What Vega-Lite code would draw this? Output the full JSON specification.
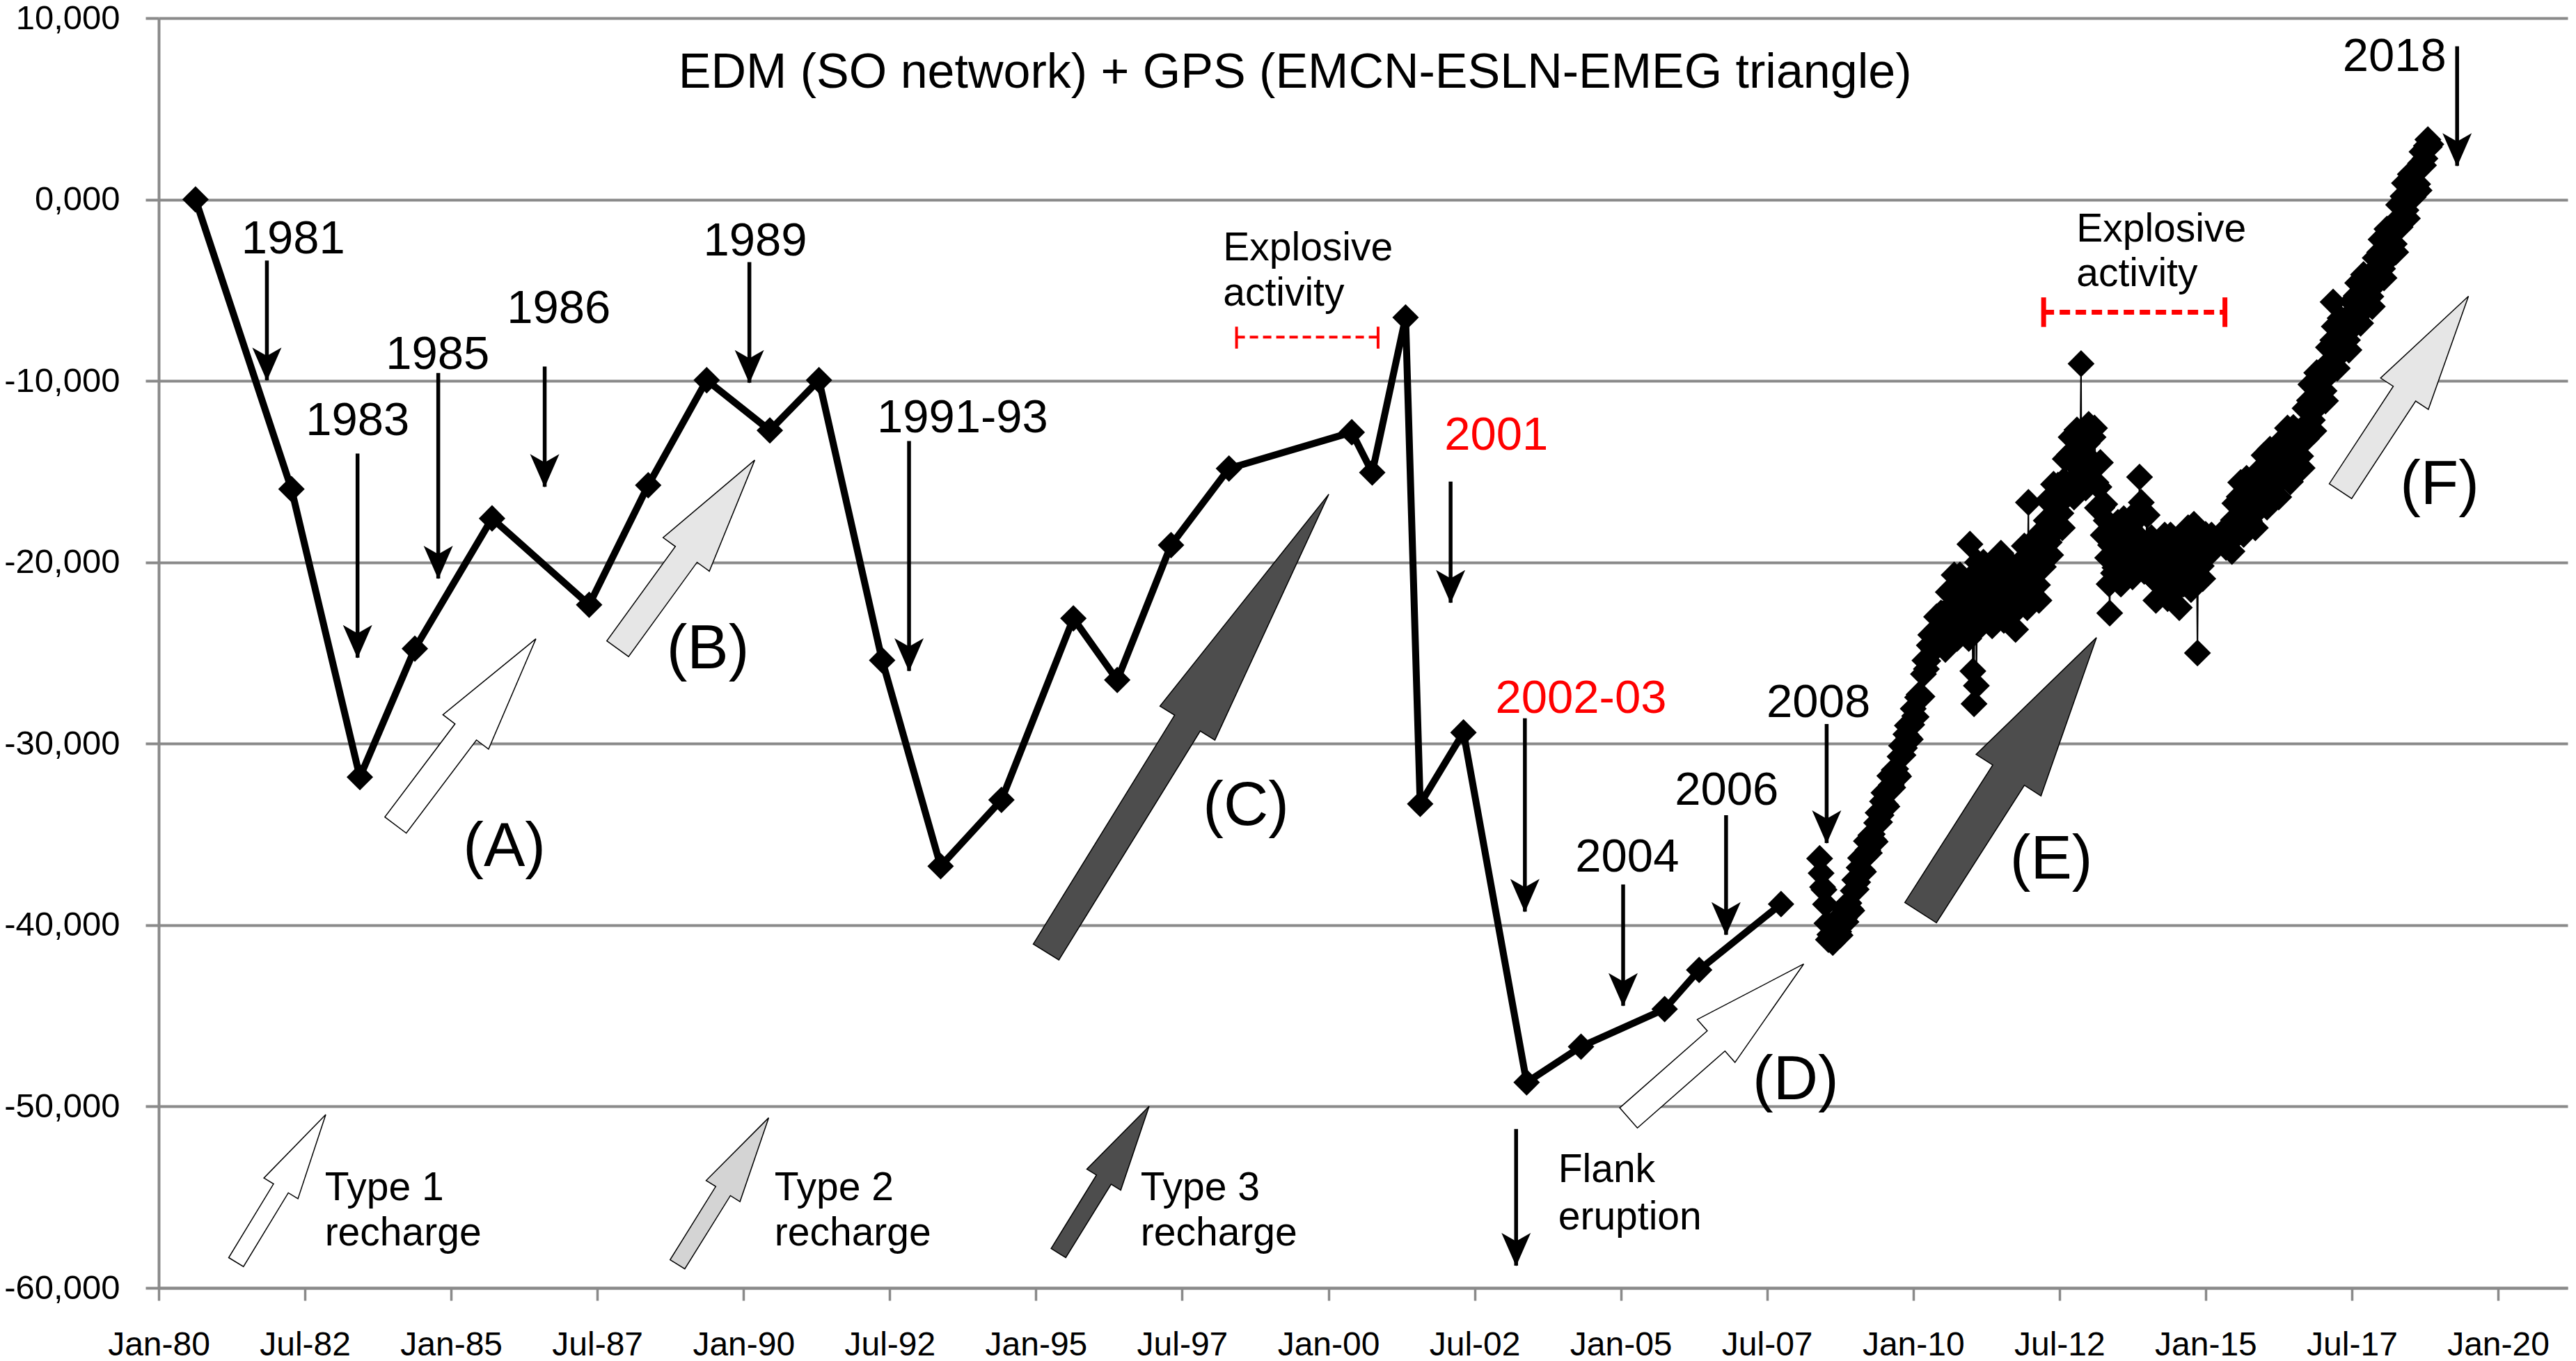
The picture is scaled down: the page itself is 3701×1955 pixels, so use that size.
{
  "$schema": "https://vega.github.io/schema/vega-lite/v6.json",
  "width": 3461,
  "height": 1824,
  "autosize": {"type": "none"},
  "padding": {"left": 228, "top": 26, "right": 12, "bottom": 105},
  "background": "white",
  "config": {"view": {"stroke": null}, "font": "Liberation Sans"},
  "datasets": {
    "edm": [
      {"year": 1980.63, "value": 0}, {"year": 1982.27, "value": -15960}, {"year": 1983.44, "value": -31840},
      {"year": 1984.38, "value": -24760}, {"year": 1985.70, "value": -17580}, {"year": 1987.36, "value": -22340},
      {"year": 1988.37, "value": -15750}, {"year": 1989.37, "value": -9960}, {"year": 1990.45, "value": -12730},
      {"year": 1991.29, "value": -9960}, {"year": 1992.37, "value": -25400}, {"year": 1993.37, "value": -36750},
      {"year": 1994.41, "value": -33100}, {"year": 1995.64, "value": -23090}, {"year": 1996.39, "value": -26490},
      {"year": 1997.31, "value": -19050}, {"year": 1998.30, "value": -14830}, {"year": 2000.40, "value": -12830},
      {"year": 2000.75, "value": -15050}, {"year": 2001.32, "value": -6505}, {"year": 2001.57, "value": -33320},
      {"year": 2002.31, "value": -29380}, {"year": 2003.39, "value": -48670}, {"year": 2004.32, "value": -46700},
      {"year": 2005.75, "value": -44630}, {"year": 2006.34, "value": -42470}, {"year": 2007.74, "value": -38840}
    ],
    "gps": [
      {"year": 2008.40, "value": -36330, "seg": "a"}, {"year": 2008.45, "value": -37900, "seg": "a"},
      {"year": 2008.50, "value": -38850, "seg": "a"}, {"year": 2008.55, "value": -40800, "seg": "a"},
      {"year": 2008.60, "value": -40620, "seg": "a"}, {"year": 2008.65, "value": -40800, "seg": "a"},
      {"year": 2008.70, "value": -39700, "seg": "a"}, {"year": 2008.75, "value": -40560, "seg": "a"},
      {"year": 2008.80, "value": -39070, "seg": "a"}, {"year": 2008.85, "value": -39820, "seg": "a"},
      {"year": 2008.90, "value": -38790, "seg": "a"}, {"year": 2008.95, "value": -39200, "seg": "a"},
      {"year": 2009.00, "value": -37510, "seg": "a"}, {"year": 2009.05, "value": -37640, "seg": "a"},
      {"year": 2009.10, "value": -36300, "seg": "a"}, {"year": 2009.15, "value": -37060, "seg": "a"},
      {"year": 2009.20, "value": -35370, "seg": "a"}, {"year": 2009.25, "value": -36020, "seg": "a"},
      {"year": 2009.30, "value": -34990, "seg": "a"}, {"year": 2009.35, "value": -35400, "seg": "a"},
      {"year": 2009.40, "value": -33810, "seg": "a"}, {"year": 2009.45, "value": -33940, "seg": "a"},
      {"year": 2009.50, "value": -32700, "seg": "a"}, {"year": 2009.55, "value": -33460, "seg": "a"},
      {"year": 2009.60, "value": -31770, "seg": "a"}, {"year": 2009.65, "value": -32420, "seg": "a"},
      {"year": 2009.70, "value": -31390, "seg": "a"}, {"year": 2009.75, "value": -31800, "seg": "a"},
      {"year": 2009.80, "value": -30110, "seg": "a"}, {"year": 2009.85, "value": -30240, "seg": "a"},
      {"year": 2009.90, "value": -29000, "seg": "a"}, {"year": 2009.95, "value": -29760, "seg": "a"},
      {"year": 2010.00, "value": -28070, "seg": "a"}, {"year": 2010.05, "value": -28520, "seg": "a"},
      {"year": 2010.10, "value": -27290, "seg": "a"}, {"year": 2010.15, "value": -27400, "seg": "a"},
      {"year": 2010.20, "value": -25410, "seg": "a"}, {"year": 2010.25, "value": -25440, "seg": "a"},
      {"year": 2010.30, "value": -24000, "seg": "a"}, {"year": 2010.35, "value": -24840, "seg": "a"},
      {"year": 2010.40, "value": -23000, "seg": "a"}, {"year": 2010.45, "value": -24320, "seg": "a"},
      {"year": 2010.50, "value": -22850, "seg": "a"}, {"year": 2010.55, "value": -24800, "seg": "a"},
      {"year": 2010.60, "value": -21640, "seg": "a"}, {"year": 2010.65, "value": -23180, "seg": "a"},
      {"year": 2010.70, "value": -20700, "seg": "a"}, {"year": 2010.75, "value": -24200, "seg": "a"},
      {"year": 2010.80, "value": -20700, "seg": "a"}, {"year": 2010.85, "value": -23600, "seg": "a"},
      {"year": 2010.90, "value": -21700, "seg": "a"}, {"year": 2010.95, "value": -24200, "seg": "a"},
      {"year": 2010.97, "value": -19000, "seg": "a"}, {"year": 2011.00, "value": -20800, "seg": "a"},
      {"year": 2011.02, "value": -26000, "seg": "a"}, {"year": 2011.04, "value": -27800, "seg": "a"},
      {"year": 2011.05, "value": -22500, "seg": "a"}, {"year": 2011.08, "value": -26800, "seg": "a"},
      {"year": 2011.10, "value": -20000, "seg": "a"}, {"year": 2011.15, "value": -23500, "seg": "a"},
      {"year": 2011.20, "value": -20000, "seg": "a"}, {"year": 2011.25, "value": -22900, "seg": "a"},
      {"year": 2011.30, "value": -21000, "seg": "a"}, {"year": 2011.35, "value": -23500, "seg": "a"},
      {"year": 2011.40, "value": -20000, "seg": "a"}, {"year": 2011.45, "value": -21800, "seg": "a"},
      {"year": 2011.50, "value": -19500, "seg": "a"}, {"year": 2011.55, "value": -23200, "seg": "a"},
      {"year": 2011.60, "value": -19900, "seg": "a"}, {"year": 2011.65, "value": -23000, "seg": "a"},
      {"year": 2011.70, "value": -21200, "seg": "a"}, {"year": 2011.75, "value": -23700, "seg": "a"},
      {"year": 2011.80, "value": -20100, "seg": "a"}, {"year": 2011.85, "value": -21700, "seg": "a"},
      {"year": 2011.90, "value": -19100, "seg": "a"}, {"year": 2011.95, "value": -22500, "seg": "a"},
      {"year": 2011.97, "value": -16700, "seg": "a"}, {"year": 2012.00, "value": -19000, "seg": "a"},
      {"year": 2012.05, "value": -21800, "seg": "a"}, {"year": 2012.10, "value": -19800, "seg": "a"},
      {"year": 2012.15, "value": -22100, "seg": "a"}, {"year": 2012.20, "value": -18300, "seg": "a"},
      {"year": 2012.25, "value": -19600, "seg": "a"}, {"year": 2012.30, "value": -16600, "seg": "a"},
      {"year": 2012.35, "value": -19600, "seg": "a"}, {"year": 2012.40, "value": -15700, "seg": "a"},
      {"year": 2012.45, "value": -18200, "seg": "a"}, {"year": 2012.50, "value": -15900, "seg": "a"},
      {"year": 2012.55, "value": -18100, "seg": "a"}, {"year": 2012.60, "value": -14300, "seg": "a"},
      {"year": 2012.65, "value": -15800, "seg": "a"}, {"year": 2012.70, "value": -13100, "seg": "a"},
      {"year": 2012.75, "value": -16400, "seg": "a"}, {"year": 2012.80, "value": -12700, "seg": "a"},
      {"year": 2012.85, "value": -15500, "seg": "a"}, {"year": 2012.87, "value": -9050, "seg": "a"},
      {"year": 2012.90, "value": -13500, "seg": "a"}, {"year": 2012.95, "value": -15900, "seg": "a"},
      {"year": 2013.00, "value": -12400, "seg": "a"}, {"year": 2013.05, "value": -14400, "seg": "a"},
      {"year": 2013.10, "value": -12600, "seg": "a"}, {"year": 2013.15, "value": -17000, "seg": "a"},
      {"year": 2013.20, "value": -14500, "seg": "a"}, {"year": 2013.25, "value": -18500, "seg": "a"},
      {"year": 2013.30, "value": -17700, "seg": "a"}, {"year": 2013.35, "value": -21200, "seg": "a"},
      {"year": 2013.36, "value": -22800, "seg": "a"}, {"year": 2013.40, "value": -18300, "seg": "a"},
      {"year": 2013.45, "value": -20300, "seg": "a"}, {"year": 2013.50, "value": -17800, "seg": "a"},
      {"year": 2013.55, "value": -21200, "seg": "a"}, {"year": 2013.60, "value": -17600, "seg": "a"},
      {"year": 2013.65, "value": -20400, "seg": "a"}, {"year": 2013.70, "value": -18400, "seg": "a"},
      {"year": 2013.75, "value": -20800, "seg": "a"}, {"year": 2013.80, "value": -17300, "seg": "a"},
      {"year": 2013.85, "value": -19000, "seg": "a"}, {"year": 2013.87, "value": -15300, "seg": "a"},
      {"year": 2013.90, "value": -16700, "seg": "a"}, {"year": 2013.95, "value": -20500, "seg": "a"},
      {"year": 2014.00, "value": -17400, "seg": "a"}, {"year": 2014.05, "value": -20700, "seg": "a"},
      {"year": 2014.10, "value": -19200, "seg": "a"}, {"year": 2014.15, "value": -22100, "seg": "a"},
      {"year": 2014.20, "value": -19000, "seg": "a"}, {"year": 2014.25, "value": -20900, "seg": "a"},
      {"year": 2014.30, "value": -18500, "seg": "a"}, {"year": 2014.35, "value": -22000, "seg": "a"},
      {"year": 2014.40, "value": -18500, "seg": "a"}, {"year": 2014.45, "value": -21500, "seg": "a"},
      {"year": 2014.50, "value": -19800, "seg": "a"}, {"year": 2014.55, "value": -22500, "seg": "a"},
      {"year": 2014.60, "value": -19100, "seg": "a"}, {"year": 2014.65, "value": -20700, "seg": "a"},
      {"year": 2014.70, "value": -18100, "seg": "a"}, {"year": 2014.75, "value": -21500, "seg": "a"},
      {"year": 2014.80, "value": -17900, "seg": "a"}, {"year": 2014.85, "value": -20800, "seg": "a"},
      {"year": 2014.86, "value": -25000, "seg": "a"}, {"year": 2014.90, "value": -18900, "seg": "a"},
      {"year": 2014.95, "value": -20900, "seg": "a"}, {"year": 2015.00, "value": -18460, "seg": "a"},
      {"year": 2015.05, "value": -19400, "seg": "a"}, {"year": 2015.10, "value": -18500, "seg": "a"},
      {"year": 2015.15, "value": -19240, "seg": "a"},
      {"year": 2008.425, "value": -37140, "seg": "a"}, {"year": 2008.475, "value": -38050, "seg": "a"},
      {"year": 2008.525, "value": -39900, "seg": "a"}, {"year": 2008.575, "value": -40520, "seg": "a"},
      {"year": 2008.625, "value": -40960, "seg": "a"}, {"year": 2008.675, "value": -40140, "seg": "a"},
      {"year": 2008.725, "value": -40360, "seg": "a"}, {"year": 2008.775, "value": -39850, "seg": "a"},
      {"year": 2008.825, "value": -39620, "seg": "a"}, {"year": 2008.875, "value": -38850, "seg": "a"},
      {"year": 2008.925, "value": -39100, "seg": "a"}, {"year": 2008.975, "value": -38110, "seg": "a"},
      {"year": 2009.025, "value": -38030, "seg": "a"}, {"year": 2009.075, "value": -36830, "seg": "a"},
      {"year": 2009.125, "value": -36960, "seg": "a"}, {"year": 2009.175, "value": -36250, "seg": "a"},
      {"year": 2009.225, "value": -35870, "seg": "a"}, {"year": 2009.275, "value": -35050, "seg": "a"},
      {"year": 2009.325, "value": -35300, "seg": "a"}, {"year": 2009.375, "value": -34360, "seg": "a"},
      {"year": 2009.425, "value": -34330, "seg": "a"}, {"year": 2009.475, "value": -33180, "seg": "a"},
      {"year": 2009.525, "value": -33360, "seg": "a"}, {"year": 2009.575, "value": -32650, "seg": "a"},
      {"year": 2009.625, "value": -32270, "seg": "a"}, {"year": 2009.675, "value": -31450, "seg": "a"},
      {"year": 2009.725, "value": -31700, "seg": "a"}, {"year": 2009.775, "value": -30710, "seg": "a"},
      {"year": 2009.825, "value": -30630, "seg": "a"}, {"year": 2009.875, "value": -29480, "seg": "a"},
      {"year": 2009.925, "value": -29660, "seg": "a"}, {"year": 2009.975, "value": -28950, "seg": "a"},
      {"year": 2010.025, "value": -28470, "seg": "a"}, {"year": 2010.075, "value": -27450, "seg": "a"},
      {"year": 2010.125, "value": -27450, "seg": "a"}, {"year": 2010.175, "value": -26160, "seg": "a"},
      {"year": 2010.225, "value": -25880, "seg": "a"}, {"year": 2010.275, "value": -24580, "seg": "a"},
      {"year": 2010.325, "value": -24690, "seg": "a"}, {"year": 2010.375, "value": -24050, "seg": "a"},
      {"year": 2010.425, "value": -23860, "seg": "a"}, {"year": 2010.475, "value": -22800, "seg": "a"},
      {"year": 2010.525, "value": -24000, "seg": "a"}, {"year": 2010.575, "value": -22650, "seg": "a"},
      {"year": 2010.625, "value": -23590, "seg": "a"}, {"year": 2010.675, "value": -21550, "seg": "a"},
      {"year": 2010.725, "value": -23250, "seg": "a"}, {"year": 2010.775, "value": -22550, "seg": "a"},
      {"year": 2010.825, "value": -22650, "seg": "a"}, {"year": 2010.875, "value": -21350, "seg": "a"},
      {"year": 2010.925, "value": -23250, "seg": "a"}, {"year": 2010.975, "value": -21800, "seg": "a"},
      {"year": 2011.025, "value": -22950, "seg": "a"}, {"year": 2011.075, "value": -20850, "seg": "a"},
      {"year": 2011.125, "value": -22550, "seg": "a"}, {"year": 2011.175, "value": -21850, "seg": "a"},
      {"year": 2011.225, "value": -21950, "seg": "a"}, {"year": 2011.275, "value": -20650, "seg": "a"},
      {"year": 2011.325, "value": -22550, "seg": "a"}, {"year": 2011.375, "value": -21050, "seg": "a"},
      {"year": 2011.425, "value": -22200, "seg": "a"}, {"year": 2011.475, "value": -20250, "seg": "a"},
      {"year": 2011.525, "value": -22150, "seg": "a"}, {"year": 2011.575, "value": -21650, "seg": "a"},
      {"year": 2011.625, "value": -21950, "seg": "a"}, {"year": 2011.675, "value": -20800, "seg": "a"},
      {"year": 2011.725, "value": -22750, "seg": "a"}, {"year": 2011.775, "value": -21200, "seg": "a"},
      {"year": 2011.825, "value": -22200, "seg": "a"}, {"year": 2011.875, "value": -20000, "seg": "a"},
      {"year": 2011.925, "value": -21600, "seg": "a"}, {"year": 2011.975, "value": -20850, "seg": "a"},
      {"year": 2012.025, "value": -20900, "seg": "a"}, {"year": 2012.075, "value": -19500, "seg": "a"},
      {"year": 2012.125, "value": -21250, "seg": "a"}, {"year": 2012.175, "value": -19500, "seg": "a"},
      {"year": 2012.225, "value": -20250, "seg": "a"}, {"year": 2012.275, "value": -17700, "seg": "a"},
      {"year": 2012.325, "value": -18900, "seg": "a"}, {"year": 2012.375, "value": -17750, "seg": "a"},
      {"year": 2012.425, "value": -17450, "seg": "a"}, {"year": 2012.475, "value": -15750, "seg": "a"},
      {"year": 2012.525, "value": -17300, "seg": "a"}, {"year": 2012.575, "value": -15500, "seg": "a"},
      {"year": 2012.625, "value": -16350, "seg": "a"}, {"year": 2012.675, "value": -14050, "seg": "a"},
      {"year": 2012.725, "value": -15550, "seg": "a"}, {"year": 2012.775, "value": -14650, "seg": "a"},
      {"year": 2012.825, "value": -14600, "seg": "a"}, {"year": 2012.875, "value": -13200, "seg": "a"},
      {"year": 2012.925, "value": -15000, "seg": "a"}, {"year": 2012.975, "value": -13450, "seg": "a"},
      {"year": 2013.025, "value": -14700, "seg": "a"}, {"year": 2013.075, "value": -13100, "seg": "a"},
      {"year": 2013.125, "value": -15600, "seg": "a"}, {"year": 2013.175, "value": -15850, "seg": "a"},
      {"year": 2013.225, "value": -17000, "seg": "a"}, {"year": 2013.275, "value": -16800, "seg": "a"},
      {"year": 2013.325, "value": -19750, "seg": "a"}, {"year": 2013.375, "value": -19050, "seg": "a"},
      {"year": 2013.425, "value": -20600, "seg": "a"}, {"year": 2013.475, "value": -18650, "seg": "a"},
      {"year": 2013.525, "value": -20300, "seg": "a"}, {"year": 2013.575, "value": -19500, "seg": "a"},
      {"year": 2013.625, "value": -19500, "seg": "a"}, {"year": 2013.675, "value": -18100, "seg": "a"},
      {"year": 2013.725, "value": -19900, "seg": "a"}, {"year": 2013.775, "value": -18350, "seg": "a"},
      {"year": 2013.825, "value": -19450, "seg": "a"}, {"year": 2013.875, "value": -17450, "seg": "a"},
      {"year": 2013.925, "value": -19400, "seg": "a"}, {"year": 2013.975, "value": -19050, "seg": "a"},
      {"year": 2014.025, "value": -19550, "seg": "a"}, {"year": 2014.075, "value": -18650, "seg": "a"},
      {"year": 2014.125, "value": -20950, "seg": "a"}, {"year": 2014.175, "value": -19850, "seg": "a"},
      {"year": 2014.225, "value": -21250, "seg": "a"}, {"year": 2014.275, "value": -19300, "seg": "a"},
      {"year": 2014.325, "value": -21050, "seg": "a"}, {"year": 2014.375, "value": -20350, "seg": "a"},
      {"year": 2014.425, "value": -20500, "seg": "a"}, {"year": 2014.475, "value": -19350, "seg": "a"},
      {"year": 2014.525, "value": -21450, "seg": "a"}, {"year": 2014.575, "value": -20100, "seg": "a"},
      {"year": 2014.625, "value": -21200, "seg": "a"}, {"year": 2014.675, "value": -19000, "seg": "a"},
      {"year": 2014.725, "value": -20600, "seg": "a"}, {"year": 2014.775, "value": -19800, "seg": "a"},
      {"year": 2014.825, "value": -19850, "seg": "a"}, {"year": 2014.875, "value": -18550, "seg": "a"},
      {"year": 2014.925, "value": -20200, "seg": "a"}, {"year": 2014.975, "value": -19110, "seg": "a"},
      {"year": 2015.025, "value": -19650, "seg": "a"}, {"year": 2015.075, "value": -18670, "seg": "a"},
      {"year": 2015.125, "value": -19180, "seg": "a"},
      {"year": 2015.30, "value": -18450, "seg": "b"}, {"year": 2015.35, "value": -19180, "seg": "b"},
      {"year": 2015.40, "value": -18070, "seg": "b"}, {"year": 2015.45, "value": -19400, "seg": "b"},
      {"year": 2015.50, "value": -16750, "seg": "b"}, {"year": 2015.55, "value": -17840, "seg": "b"},
      {"year": 2015.60, "value": -15600, "seg": "b"}, {"year": 2015.65, "value": -18460, "seg": "b"},
      {"year": 2015.70, "value": -15370, "seg": "b"}, {"year": 2015.75, "value": -17720, "seg": "b"},
      {"year": 2015.80, "value": -16090, "seg": "b"}, {"year": 2015.85, "value": -18100, "seg": "b"},
      {"year": 2015.90, "value": -15010, "seg": "b"}, {"year": 2015.95, "value": -16340, "seg": "b"},
      {"year": 2016.00, "value": -14100, "seg": "b"}, {"year": 2016.05, "value": -16960, "seg": "b"},
      {"year": 2016.10, "value": -13770, "seg": "b"}, {"year": 2016.15, "value": -16120, "seg": "b"},
      {"year": 2016.20, "value": -14390, "seg": "b"}, {"year": 2016.25, "value": -16400, "seg": "b"},
      {"year": 2016.30, "value": -13310, "seg": "b"}, {"year": 2016.35, "value": -14740, "seg": "b"},
      {"year": 2016.40, "value": -12600, "seg": "b"}, {"year": 2016.45, "value": -15560, "seg": "b"},
      {"year": 2016.50, "value": -12570, "seg": "b"}, {"year": 2016.55, "value": -14820, "seg": "b"},
      {"year": 2016.60, "value": -12990, "seg": "b"}, {"year": 2016.65, "value": -14800, "seg": "b"},
      {"year": 2016.70, "value": -11510, "seg": "b"}, {"year": 2016.75, "value": -12640, "seg": "b"},
      {"year": 2016.80, "value": -10200, "seg": "b"}, {"year": 2016.85, "value": -12760, "seg": "b"},
      {"year": 2016.90, "value": -9550, "seg": "b"}, {"year": 2016.95, "value": -11300, "seg": "b"},
      {"year": 2017.00, "value": -9550, "seg": "b"}, {"year": 2017.05, "value": -11100, "seg": "b"},
      {"year": 2017.10, "value": -8150, "seg": "b"}, {"year": 2017.15, "value": -9100, "seg": "b"},
      {"year": 2017.18, "value": -5650, "seg": "b"}, {"year": 2017.20, "value": -7000, "seg": "b"},
      {"year": 2017.25, "value": -9300, "seg": "b"}, {"year": 2017.30, "value": -6540, "seg": "b"},
      {"year": 2017.35, "value": -8340, "seg": "b"}, {"year": 2017.40, "value": -6780, "seg": "b"},
      {"year": 2017.45, "value": -8300, "seg": "b"}, {"year": 2017.50, "value": -5620, "seg": "b"},
      {"year": 2017.55, "value": -6580, "seg": "b"}, {"year": 2017.60, "value": -4600, "seg": "b"},
      {"year": 2017.65, "value": -6820, "seg": "b"}, {"year": 2017.70, "value": -4140, "seg": "b"},
      {"year": 2017.75, "value": -5940, "seg": "b"}, {"year": 2017.80, "value": -4380, "seg": "b"},
      {"year": 2017.85, "value": -5900, "seg": "b"}, {"year": 2017.90, "value": -3220, "seg": "b"},
      {"year": 2017.95, "value": -4180, "seg": "b"}, {"year": 2018.00, "value": -2200, "seg": "b"},
      {"year": 2018.05, "value": -4320, "seg": "b"}, {"year": 2018.10, "value": -1630, "seg": "b"},
      {"year": 2018.15, "value": -3180, "seg": "b"}, {"year": 2018.20, "value": -1610, "seg": "b"},
      {"year": 2018.25, "value": -2900, "seg": "b"}, {"year": 2018.30, "value": -290, "seg": "b"},
      {"year": 2018.35, "value": -1060, "seg": "b"}, {"year": 2018.40, "value": 900, "seg": "b"},
      {"year": 2018.45, "value": -1040, "seg": "b"}, {"year": 2018.50, "value": 1390, "seg": "b"},
      {"year": 2018.55, "value": 140, "seg": "b"}, {"year": 2018.60, "value": 1530, "seg": "b"},
      {"year": 2018.65, "value": 500, "seg": "b"}, {"year": 2018.70, "value": 2630, "seg": "b"},
      {"year": 2018.75, "value": 2260, "seg": "b"}, {"year": 2018.80, "value": 3300, "seg": "b"},
      {"year": 2018.85, "value": 3040, "seg": "b"},
      {"year": 2015.325, "value": -18870, "seg": "b"}, {"year": 2015.375, "value": -18080, "seg": "b"},
      {"year": 2015.425, "value": -18850, "seg": "b"}, {"year": 2015.475, "value": -17670, "seg": "b"},
      {"year": 2015.525, "value": -18290, "seg": "b"}, {"year": 2015.575, "value": -16380, "seg": "b"},
      {"year": 2015.625, "value": -17710, "seg": "b"}, {"year": 2015.675, "value": -17000, "seg": "b"},
      {"year": 2015.725, "value": -16970, "seg": "b"}, {"year": 2015.775, "value": -15800, "seg": "b"},
      {"year": 2015.825, "value": -17350, "seg": "b"}, {"year": 2015.875, "value": -15960, "seg": "b"},
      {"year": 2015.925, "value": -16780, "seg": "b"}, {"year": 2015.975, "value": -14880, "seg": "b"},
      {"year": 2016.025, "value": -16210, "seg": "b"}, {"year": 2016.075, "value": -15450, "seg": "b"},
      {"year": 2016.125, "value": -15370, "seg": "b"}, {"year": 2016.175, "value": -14150, "seg": "b"},
      {"year": 2016.225, "value": -15650, "seg": "b"}, {"year": 2016.275, "value": -14260, "seg": "b"},
      {"year": 2016.325, "value": -15130, "seg": "b"}, {"year": 2016.375, "value": -13330, "seg": "b"},
      {"year": 2016.425, "value": -14760, "seg": "b"}, {"year": 2016.475, "value": -14150, "seg": "b"},
      {"year": 2016.525, "value": -14120, "seg": "b"}, {"year": 2016.575, "value": -12800, "seg": "b"},
      {"year": 2016.625, "value": -14150, "seg": "b"}, {"year": 2016.675, "value": -12560, "seg": "b"},
      {"year": 2016.725, "value": -13180, "seg": "b"}, {"year": 2016.775, "value": -11080, "seg": "b"},
      {"year": 2016.825, "value": -12160, "seg": "b"}, {"year": 2016.875, "value": -11150, "seg": "b"},
      {"year": 2016.925, "value": -10800, "seg": "b"}, {"year": 2016.975, "value": -9450, "seg": "b"},
      {"year": 2017.025, "value": -10550, "seg": "b"}, {"year": 2017.075, "value": -9100, "seg": "b"},
      {"year": 2017.125, "value": -9600, "seg": "b"}, {"year": 2017.175, "value": -7750, "seg": "b"},
      {"year": 2017.225, "value": -8750, "seg": "b"}, {"year": 2017.275, "value": -7950, "seg": "b"},
      {"year": 2017.325, "value": -7790, "seg": "b"}, {"year": 2017.375, "value": -6650, "seg": "b"},
      {"year": 2017.425, "value": -7750, "seg": "b"}, {"year": 2017.475, "value": -6470, "seg": "b"},
      {"year": 2017.525, "value": -7010, "seg": "b"}, {"year": 2017.575, "value": -5310, "seg": "b"},
      {"year": 2017.625, "value": -6270, "seg": "b"}, {"year": 2017.675, "value": -5550, "seg": "b"},
      {"year": 2017.725, "value": -5390, "seg": "b"}, {"year": 2017.775, "value": -4250, "seg": "b"},
      {"year": 2017.825, "value": -5350, "seg": "b"}, {"year": 2017.875, "value": -4070, "seg": "b"},
      {"year": 2017.925, "value": -4610, "seg": "b"}, {"year": 2017.975, "value": -2910, "seg": "b"},
      {"year": 2018.025, "value": -3820, "seg": "b"}, {"year": 2018.075, "value": -3000, "seg": "b"},
      {"year": 2018.125, "value": -2730, "seg": "b"}, {"year": 2018.175, "value": -1550, "seg": "b"},
      {"year": 2018.225, "value": -2450, "seg": "b"}, {"year": 2018.275, "value": -1140, "seg": "b"},
      {"year": 2018.325, "value": -1520, "seg": "b"}, {"year": 2018.375, "value": 180, "seg": "b"},
      {"year": 2018.425, "value": -590, "seg": "b"}, {"year": 2018.475, "value": 200, "seg": "b"},
      {"year": 2018.525, "value": 490, "seg": "b"}, {"year": 2018.575, "value": 1550, "seg": "b"},
      {"year": 2018.625, "value": 850, "seg": "b"}, {"year": 2018.675, "value": 2000, "seg": "b"},
      {"year": 2018.725, "value": 1880, "seg": "b"}, {"year": 2018.775, "value": 2960, "seg": "b"},
      {"year": 2018.825, "value": 2900, "seg": "b"}
    ],
    "arrows": [
      {"year": 1981.85, "value": -9962, "top": -3367}, {"year": 1983.40, "value": -25260, "top": -14004},
      {"year": 1984.78, "value": -20898, "top": -9559}, {"year": 1986.60, "value": -15835, "top": -9210},
      {"year": 1990.10, "value": -10096, "top": -3447}, {"year": 1992.83, "value": -25990, "top": -13317},
      {"year": 2002.09, "value": -22230, "top": -15545}, {"year": 2003.36, "value": -39255, "top": -28595},
      {"year": 2005.04, "value": -44445, "top": -37758}, {"year": 2006.80, "value": -40530, "top": -33939},
      {"year": 2008.52, "value": -35474, "top": -28914}, {"year": 2019.30, "value": 1858, "top": 8449},
      {"year": 2003.21, "value": -58770, "top": -51244}
    ]
  },
  "encoding": {
    "x": {
      "field": "year", "type": "quantitative",
      "scale": {"domain": [1980, 2021.19], "nice": false, "zero": false},
      "axis": {
        "values": [1980, 1982.5, 1985, 1987.5, 1990, 1992.5, 1995, 1997.5, 2000, 2002.5, 2005, 2007.5, 2010, 2012.5, 2015, 2017.5, 2020],
        "labelExpr": "(datum.value % 5 == 0 ? 'Jan-' : 'Jul-') + substring(toString(floor(datum.value)), 2, 4)",
        "title": null, "grid": false,
        "domainColor": "#8a8a8a", "domainWidth": 4,
        "tickColor": "#8a8a8a", "tickWidth": 3.5, "tickSize": 18,
        "labelFont": "Liberation Sans", "labelFontSize": 48, "labelColor": "#000000",
        "labelPadding": 40, "labelAngle": 0, "labelFlush": false, "labelOverlap": false
      }
    },
    "y": {
      "field": "value", "type": "quantitative",
      "scale": {"domain": [-60000, 10000], "nice": false, "zero": false},
      "axis": {
        "values": [-60000, -50000, -40000, -30000, -20000, -10000, 0, 10000],
        "labelExpr": "(datum.value / 1000) + ',000'",
        "title": null, "grid": true, "gridColor": "#8a8a8a", "gridWidth": 4,
        "domainColor": "#8a8a8a", "domainWidth": 4,
        "tickColor": "#8a8a8a", "tickWidth": 4, "tickSize": 19,
        "labelFont": "Liberation Sans", "labelFontSize": 49, "labelColor": "#000000",
        "labelPadding": 37, "labelFlush": false, "labelOverlap": false
      }
    }
  },
  "layer": [
    {"data": {"values": [{"year": 1985.25, "value": -29351}]},
     "mark": {"type": "point", "shape": "M -0.115 1 L 0.115 1 L 0.115 0 L 0.245 0 L 0 -1 L -0.245 0 L -0.115 0 Z", "size": 112225, "angle": 37, "filled": true, "fill": "#ffffff", "stroke": "#000000", "strokeWidth": 1.5, "opacity": 1}},
    {"data": {"values": [{"year": 1989.02, "value": -19564}]},
     "mark": {"type": "point", "shape": "M -0.115 1 L 0.115 1 L 0.115 0 L 0.245 0 L 0 -1 L -0.245 0 L -0.115 0 Z", "size": 112225, "angle": 36, "filled": true, "fill": "#e6e6e6", "stroke": "#000000", "strokeWidth": 1.5, "opacity": 1}},
    {"data": {"values": [{"year": 1997.59, "value": -28864}]},
     "mark": {"type": "point", "shape": "M -0.056 1 L 0.056 1 L 0.056 0 L 0.12 0 L 0 -1 L -0.12 0 L -0.056 0 Z", "size": 597529, "angle": 31.7, "filled": true, "fill": "#4d4d4d", "stroke": "#000000", "strokeWidth": 1.5, "opacity": 1}},
    {"data": {"values": [{"year": 2006.63, "value": -46386}]},
     "mark": {"type": "point", "shape": "M -0.115 1 L 0.115 1 L 0.115 0 L 0.245 0 L 0 -1 L -0.245 0 L -0.115 0 Z", "size": 112225, "angle": 48.7, "filled": true, "fill": "#ffffff", "stroke": "#000000", "strokeWidth": 1.5, "opacity": 1}},
    {"data": {"values": [{"year": 2011.63, "value": -31733}]},
     "mark": {"type": "point", "shape": "M -0.115 1 L 0.115 1 L 0.115 0 L 0.236 0 L 0 -1 L -0.236 0 L -0.115 0 Z", "size": 219961, "angle": 32.6, "filled": true, "fill": "#4d4d4d", "stroke": "#000000", "strokeWidth": 1.5, "opacity": 1}},
    {"data": {"values": [{"year": 2018.40, "value": -10706}]},
     "mark": {"type": "point", "shape": "M -0.115 1 L 0.115 1 L 0.115 0 L 0.245 0 L 0 -1 L -0.245 0 L -0.115 0 Z", "size": 112225, "angle": 33.3, "filled": true, "fill": "#e6e6e6", "stroke": "#000000", "strokeWidth": 1.5, "opacity": 1}},
    {"data": {"values": [{"year": 1982.09, "value": -54512}]},
     "mark": {"type": "point", "shape": "M -0.1 1 L 0.1 1 L 0.1 0 L 0.231 0 L 0 -1 L -0.231 0 L -0.1 0 Z", "size": 61504, "angle": 31.3, "filled": true, "fill": "#ffffff", "stroke": "#000000", "strokeWidth": 1.5, "opacity": 1}},
    {"data": {"values": [{"year": 1989.65, "value": -54662}]},
     "mark": {"type": "point", "shape": "M -0.1 1 L 0.1 1 L 0.1 0 L 0.231 0 L 0 -1 L -0.231 0 L -0.1 0 Z", "size": 61504, "angle": 31.9, "filled": true, "fill": "#d4d4d4", "stroke": "#000000", "strokeWidth": 1.5, "opacity": 1}},
    {"data": {"values": [{"year": 1996.16, "value": -54032}]},
     "mark": {"type": "point", "shape": "M -0.1 1 L 0.1 1 L 0.1 0 L 0.231 0 L 0 -1 L -0.231 0 L -0.1 0 Z", "size": 61504, "angle": 31.7, "filled": true, "fill": "#4d4d4d", "stroke": "#000000", "strokeWidth": 1.5, "opacity": 1}},

    {"data": {"name": "arrows"},
     "mark": {"type": "rule", "color": "#000000", "strokeWidth": 5.5},
     "encoding": {"y2": {"field": "top"}}},
    {"data": {"name": "arrows"},
     "mark": {"type": "point", "shape": "M 0 1 L -0.875 -1 L 0 -0.5 L 0.875 -1 Z", "size": 2304, "yOffset": -23, "filled": true, "fill": "#000000", "strokeWidth": 0, "opacity": 1}},

    {"data": {"values": [{"year": 1998.43, "year2": 2000.85, "value": -7585}]},
     "mark": {"type": "rule", "color": "#ff0000", "strokeWidth": 4, "strokeDash": [12, 7]},
     "encoding": {"x2": {"field": "year2"}}},
    {"data": {"values": [{"year": 1998.43, "value": -8220, "top": -7010}, {"year": 2000.85, "value": -8220, "top": -7010}]},
     "mark": {"type": "rule", "color": "#ff0000", "strokeWidth": 4},
     "encoding": {"y2": {"field": "top"}}},
    {"data": {"values": [{"year": 2012.23, "year2": 2015.33, "value": -6212}]},
     "mark": {"type": "rule", "color": "#ff0000", "strokeWidth": 7, "strokeDash": [15, 8]},
     "encoding": {"x2": {"field": "year2"}}},
    {"data": {"values": [{"year": 2012.23, "value": -7025, "top": -5397}, {"year": 2015.33, "value": -7025, "top": -5397}]},
     "mark": {"type": "rule", "color": "#ff0000", "strokeWidth": 7},
     "encoding": {"y2": {"field": "top"}}},

    {"data": {"name": "edm"},
     "mark": {"type": "line", "color": "#000000", "strokeWidth": 10, "strokeJoin": "round"}},
    {"data": {"name": "edm"},
     "mark": {"type": "point", "shape": "diamond", "size": 1450, "filled": true, "color": "#000000", "opacity": 1}},
    {"data": {"name": "gps"},
     "mark": {"type": "line", "color": "#000000", "strokeWidth": 2},
     "encoding": {"detail": {"field": "seg"}}},
    {"data": {"name": "gps"},
     "mark": {"type": "point", "shape": "diamond", "size": 1500, "filled": true, "color": "#000000", "opacity": 1}},

    {"data": {"values": [{"year": 1999.43, "value": 6146, "label": "EDM (SO network) + GPS (EMCN-ESLN-EMEG triangle)"}]},
     "mark": {"type": "text", "font": "Liberation Sans", "fontSize": 70, "align": "center", "baseline": "alphabetic", "color": "#000000"},
     "encoding": {"text": {"field": "label"}}},
    {"data": {"values": [
        {"year": 1982.30, "value": -2960, "label": "1981"}, {"year": 1983.40, "value": -13000, "label": "1983"},
        {"year": 1984.77, "value": -9344, "label": "1985"}, {"year": 1986.84, "value": -6791, "label": "1986"},
        {"year": 1990.20, "value": -3105, "label": "1989"}, {"year": 1993.745, "value": -12837, "label": "1991-93"},
        {"year": 2005.11, "value": -37039, "label": "2004"}, {"year": 2006.81, "value": -33355, "label": "2006"},
        {"year": 2008.38, "value": -28518, "label": "2008"}, {"year": 2018.23, "value": 7067, "label": "2018"}]},
     "mark": {"type": "text", "font": "Liberation Sans", "fontSize": 67, "align": "center", "baseline": "alphabetic", "color": "#000000"},
     "encoding": {"text": {"field": "label"}}},
    {"data": {"values": [
        {"year": 2002.87, "value": -13777, "label": "2001"}, {"year": 2004.32, "value": -28288, "label": "2002-03"}]},
     "mark": {"type": "text", "font": "Liberation Sans", "fontSize": 67, "align": "center", "baseline": "alphabetic", "color": "#ff0000"},
     "encoding": {"text": {"field": "label"}}},
    {"data": {"values": [
        {"year": 1985.91, "value": -36745, "label": "(A)"}, {"year": 1989.39, "value": -25851, "label": "(B)"},
        {"year": 1998.59, "value": -34480, "label": "(C)"}, {"year": 2007.99, "value": -49589, "label": "(D)"},
        {"year": 2012.36, "value": -37432, "label": "(E)"}, {"year": 2019.0, "value": -16791, "label": "(F)"}]},
     "mark": {"type": "text", "font": "Liberation Sans", "fontSize": 89, "align": "center", "baseline": "alphabetic", "color": "#000000"},
     "encoding": {"text": {"field": "label"}}},
    {"data": {"values": [
        {"year": 1998.20, "value": -3374, "label": "Explosive"}, {"year": 1998.20, "value": -5831, "label": "activity"},
        {"year": 2012.79, "value": -2303, "label": "Explosive"}, {"year": 2012.79, "value": -4768, "label": "activity"},
        {"year": 2003.93, "value": -54150, "label": "Flank"}, {"year": 2003.93, "value": -56780, "label": "eruption"},
        {"year": 1982.84, "value": -55174, "label": "Type 1"}, {"year": 1982.84, "value": -57678, "label": "recharge"},
        {"year": 1990.53, "value": -55174, "label": "Type 2"}, {"year": 1990.53, "value": -57678, "label": "recharge"},
        {"year": 1996.79, "value": -55174, "label": "Type 3"}, {"year": 1996.79, "value": -57678, "label": "recharge"}]},
     "mark": {"type": "text", "font": "Liberation Sans", "fontSize": 57, "align": "left", "baseline": "alphabetic", "color": "#000000"},
     "encoding": {"text": {"field": "label"}}}
  ]
}
